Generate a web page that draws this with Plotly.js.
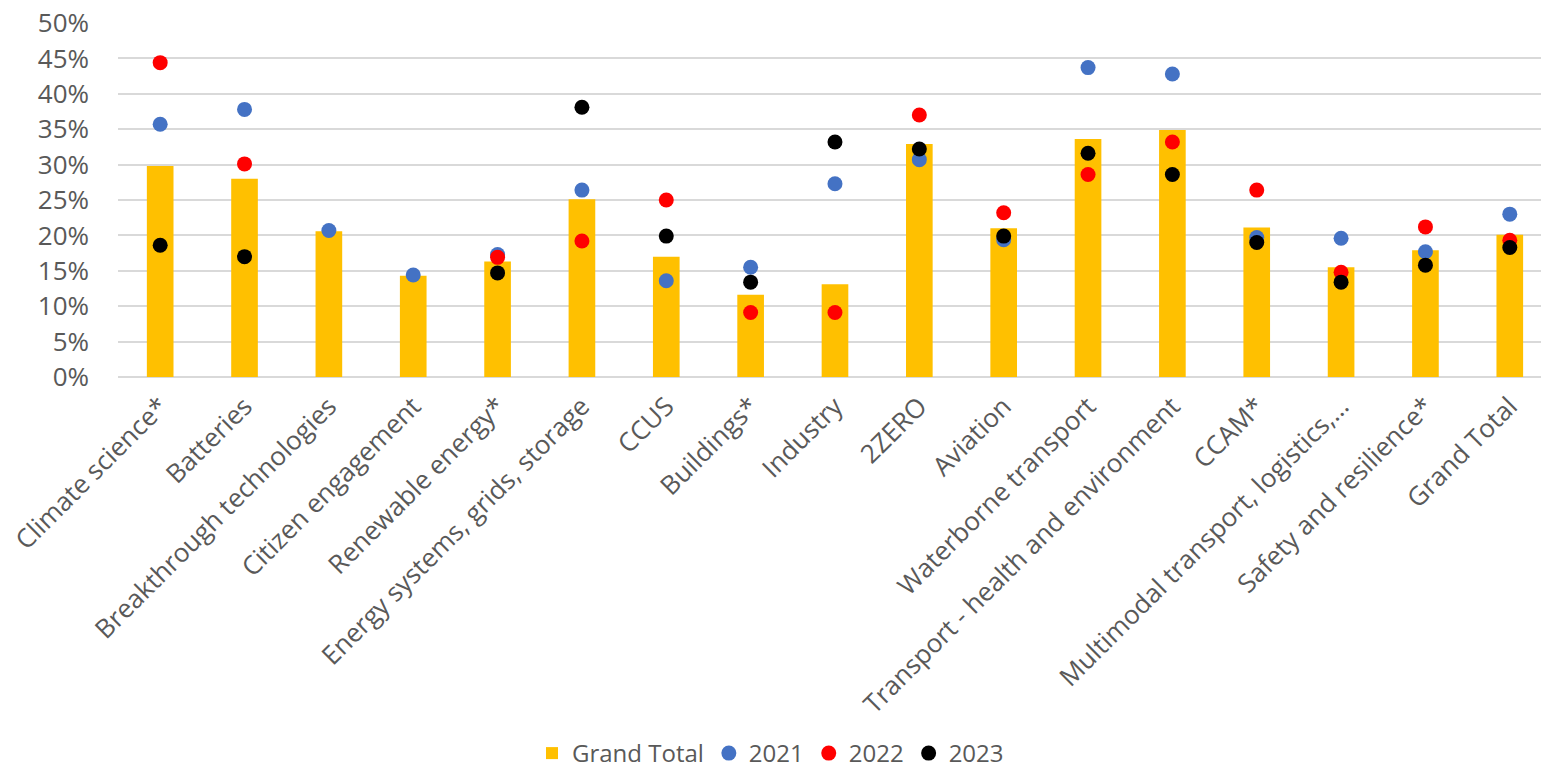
<!DOCTYPE html>
<html>
<head>
<meta charset="utf-8">
<script src="https://cdn.plot.ly/plotly-3.0.1.min.js"></script>
<style>html,body{margin:0;padding:0;background:#fff;}#chart{width:1541px;height:776px;}</style>
</head>
<body>
<div id="chart"></div>
<script>
const categories = ["Climate science*", "Batteries", "Breakthrough technologies", "Citizen engagement", "Renewable energy*", "Energy systems, grids, storage", "CCUS", "Buildings*", "Industry", "2ZERO", "Aviation", "Waterborne transport", "Transport - health and environment", "CCAM*", "Multimodal transport, logistics,…", "Safety and resilience*", "Grand Total"];
const grandTotal = [0.298, 0.280, 0.206, 0.143, 0.163, 0.251, 0.170, 0.116, 0.131, 0.329, 0.210, 0.336, 0.349, 0.211, 0.155, 0.179, 0.201];
const y2021 = [0.357, 0.378, 0.207, 0.144, 0.173, 0.264, 0.136, 0.155, 0.273, 0.307, 0.194, 0.437, 0.428, 0.197, 0.196, 0.177, 0.230];
const y2022 = [0.444, 0.301, null, null, 0.169, 0.192, 0.250, 0.091, 0.091, 0.370, 0.232, 0.286, 0.332, 0.264, 0.148, 0.212, 0.193];
const y2023 = [0.186, 0.170, null, null, 0.147, 0.381, 0.199, 0.134, 0.332, 0.322, 0.199, 0.316, 0.286, 0.190, 0.134, 0.158, 0.183];

const FONT = "'Open Sans', sans-serif";
const mk = (name, vals, color) => ({
  type: 'scatter', mode: 'markers', name: name, x: categories, y: vals,
  marker: {color: color, size: 15}, cliponaxis: false
});
const traces = [
  {type: 'bar', name: 'Grand Total', x: categories, y: grandTotal, marker: {color: '#FFC000'}, width: 0.316},
  mk('2021', y2021, '#4472C4'),
  mk('2022', y2022, '#FF0000'),
  mk('2023', y2023, '#000000')
];
const layout = {
  width: 1541, height: 776,
  margin: {l: 118, r: 0, t: 23, b: 399},
  paper_bgcolor: '#fff', plot_bgcolor: '#fff',
  font: {family: FONT, size: 24, color: '#595959'},
  showlegend: true,
  legend: {orientation: 'h', x: 0.5, xanchor: 'center', xref: 'container', y: -0.016, yanchor: 'bottom', yref: 'container', font: {size: 24, color: '#595959'}, itemsizing: 'trace', traceorder: 'normal', itemwidth: 30},
  xaxis: {type: 'category', range: [-0.5, 16.37], tickangle: -45, showgrid: false, showline: false, zeroline: false, ticks: '', ticklabelstandoff: 8, tickfont: {size: 26, color: '#595959'}, automargin: false},
  yaxis: {range: [0, 0.5], dtick: 0.05, tickformat: '.0%', showgrid: true, gridcolor: '#D9D9D9', gridwidth: 2, zeroline: true, zerolinecolor: '#D9D9D9', zerolinewidth: 2, showline: false, ticks: '', ticklabelstandoff: 28, tickfont: {size: 26, color: '#595959'}, automargin: false}
};
Plotly.newPlot('chart', traces, layout, {displayModeBar: false, staticPlot: true});
</script>
</body>
</html>
